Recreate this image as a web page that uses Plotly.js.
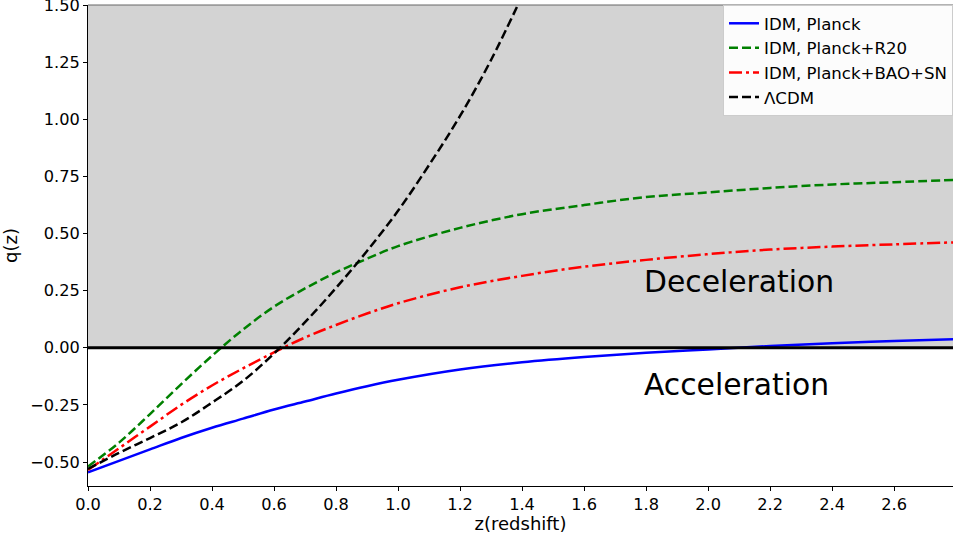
<!DOCTYPE html>
<html>
<head>
<meta charset="utf-8">
<script src="https://cdn.plot.ly/plotly-3.0.1.min.js"></script>
<style>html,body{margin:0;padding:0;background:#fff;}#chart{width:953px;height:534px;}</style>
</head>
<body>
<div id="chart"></div>
<script>
// Redshift grids and q(z) values
const zBlue = [0, 0.1, 0.2, 0.3, 0.4, 0.5, 0.6, 0.7, 0.8, 0.9, 1.0, 1.2, 1.4, 1.6, 1.8, 2.0, 2.2, 2.4, 2.6, 2.8];
const qBlue = [-0.545, -0.495, -0.445, -0.395, -0.35, -0.31, -0.27, -0.235, -0.2, -0.168, -0.14, -0.095, -0.063, -0.04, -0.022, -0.007, 0.008, 0.02, 0.03, 0.038];

const zGreen = [0, 0.1, 0.2, 0.3, 0.4, 0.5, 0.6, 0.7, 0.8, 0.9, 1.0, 1.2, 1.4, 1.6, 1.8, 2.0, 2.2, 2.4, 2.6, 2.8];
const qGreen = [-0.52, -0.415, -0.29, -0.16, -0.035, 0.08, 0.18, 0.26, 0.33, 0.39, 0.445, 0.525, 0.585, 0.625, 0.66, 0.68, 0.70, 0.715, 0.725, 0.735];

const zRed = [0, 0.1, 0.2, 0.3, 0.4, 0.5, 0.6, 0.7, 0.8, 0.9, 1.0, 1.2, 1.4, 1.6, 1.8, 2.0, 2.2, 2.4, 2.6, 2.8];
const qRed = [-0.535, -0.44, -0.345, -0.25, -0.165, -0.09, -0.02, 0.045, 0.10, 0.15, 0.195, 0.265, 0.315, 0.355, 0.385, 0.41, 0.43, 0.443, 0.453, 0.462];

const zLCDM = [0, 0.1, 0.2, 0.3, 0.4, 0.5, 0.6, 0.7, 0.8, 0.9, 1.0, 1.1, 1.2, 1.3, 1.4];
const qLCDM = [-0.53, -0.46, -0.395, -0.327, -0.24, -0.145, -0.025, 0.112, 0.262, 0.424, 0.60, 0.80, 1.015, 1.26, 1.54];

const seriesNames = ["IDM, Planck", "IDM, Planck+R20", "IDM, Planck+BAO+SN", "\u039bCDM"];
const regionLabels = ["Deceleration", "Acceleration"];

const FONT = "DejaVu Sans, sans-serif";

const traces = [
  {x: zBlue, y: qBlue, name: seriesNames[0], mode: "lines", line: {color: "#0000ff", width: 2.5, shape: "spline"}},
  {x: zGreen, y: qGreen, name: seriesNames[1], mode: "lines", line: {color: "#008000", width: 2.5, dash: "9px,4px", shape: "spline"}},
  {x: zRed, y: qRed, name: seriesNames[2], mode: "lines", line: {color: "#ff0000", width: 2.5, dash: "13px,4px,3px,4px", shape: "spline"}},
  {x: zLCDM, y: qLCDM, name: seriesNames[3], mode: "lines", line: {color: "#000000", width: 2.5, dash: "9px,4px", shape: "spline"}}
];

const layout = {
  width: 953, height: 534,
  margin: {l: 88, r: 0, t: 5, b: 48},
  paper_bgcolor: "#ffffff",
  plot_bgcolor: "#ffffff",
  font: {family: FONT, size: 16, color: "#000"},
  showlegend: true,
  legend: {
    x: 1, y: 1, xanchor: "right", yanchor: "top",
    bgcolor: "rgba(255,255,255,0.92)", bordercolor: "#cccccc", borderwidth: 1,
    font: {family: FONT, size: 16.6, color: "#000"},
    tracegroupgap: 0
  },
  xaxis: {
    range: [0, 2.79], tickmode: "linear", tick0: 0, dtick: 0.2, tickformat: ".1f",
    showgrid: false, zeroline: false, showline: true, linecolor: "#000", linewidth: 1,
    ticks: "outside", ticklen: 4, tickcolor: "#000", mirror: false,
    tickfont: {family: FONT, size: 16.2},
    title: {text: "z(redshift)", font: {family: FONT, size: 18}, standoff: 3}
  },
  yaxis: {
    range: [-0.605, 1.5008], tickmode: "linear", tick0: 0, dtick: 0.25, tickformat: ".2f",
    showgrid: false, zeroline: false, showline: true, linecolor: "#000", linewidth: 1,
    ticks: "outside", ticklen: 4, tickcolor: "#000", ticklabeloverflow: "allow",
    tickfont: {family: FONT, size: 16.2},
    title: {text: "q(z)", font: {family: FONT, size: 18}, standoff: 10}
  },
  shapes: [
    {type: "rect", xref: "paper", yref: "y", x0: 0, x1: 1, y0: 0, y1: 1.5008, fillcolor: "#d3d3d3", line: {width: 0}, layer: "below"},
    {type: "line", xref: "paper", yref: "y", x0: 0, x1: 1, y0: 0, y1: 0, line: {color: "#000", width: 3}, layer: "above"},
    {type: "line", xref: "paper", yref: "paper", x0: 0, x1: 1, y0: 1, y1: 1, line: {color: "#666", width: 1}, layer: "above"}
  ],
  annotations: [
    {x: 1.787, y: 0.29, xref: "x", yref: "y", text: regionLabels[0], showarrow: false, xanchor: "left", yanchor: "middle", font: {family: FONT, size: 29.8, color: "#000"}},
    {x: 1.787, y: -0.16, xref: "x", yref: "y", text: regionLabels[1], showarrow: false, xanchor: "left", yanchor: "middle", font: {family: FONT, size: 29.8, color: "#000"}}
  ]
};

Plotly.newPlot("chart", traces, layout, {displayModeBar: false, staticPlot: true});
</script>
</body>
</html>
